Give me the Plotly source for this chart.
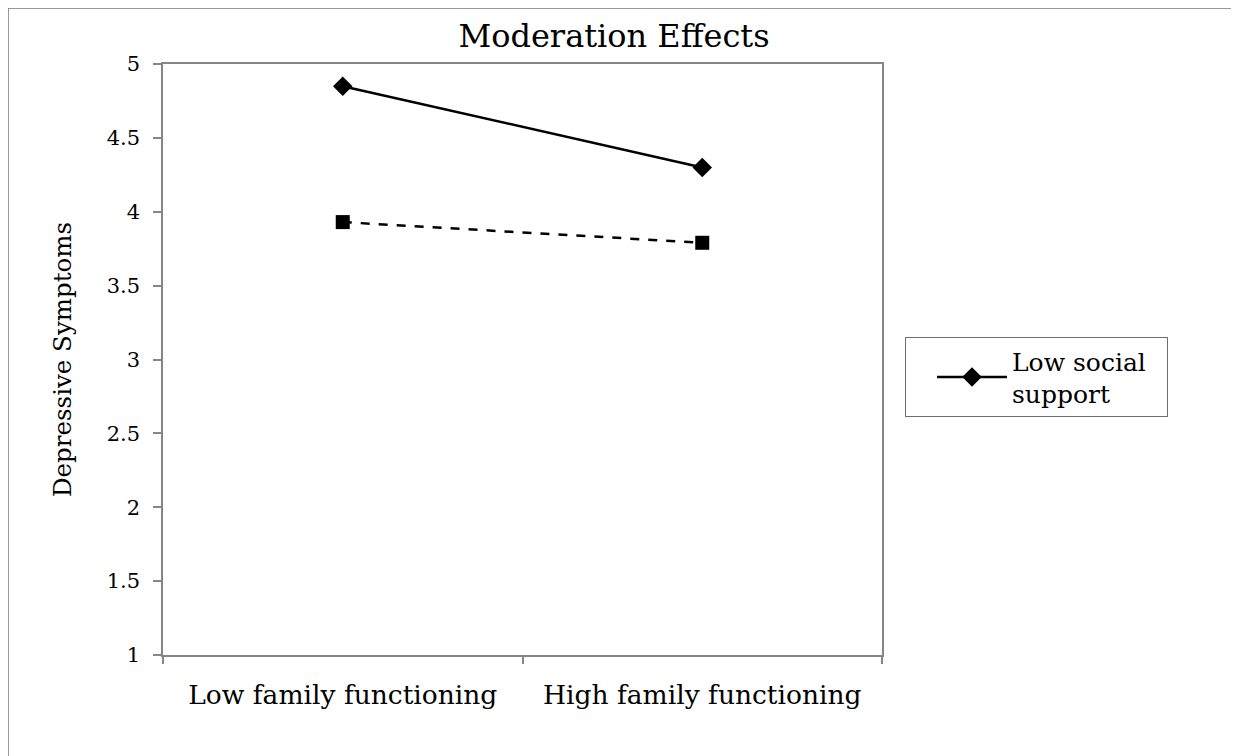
import plotly.graph_objects as go

categories = ["Low family functioning", "High family functioning"]
low_support = [4.85, 4.30]
high_support = [3.93, 3.79]
series_names = ["Low social<br>support", "High social<br>support"]
y_ticks = [1, 1.5, 2, 2.5, 3, 3.5, 4, 4.5, 5]
y_ticktext = ["1", "1.5", "2", "2.5", "3", "3.5", "4", "4.5", "5"]

FONT = "DejaVu Serif"
x_pos = list(range(len(categories)))

fig = go.Figure()
fig.add_trace(go.Scatter(
    x=x_pos, y=low_support, name=series_names[0], mode="lines+markers",
    line=dict(color="black", width=2.5),
    marker=dict(symbol="diamond", size=15, color="black"),
))
fig.add_trace(go.Scatter(
    x=x_pos, y=high_support, name=series_names[1], mode="lines+markers",
    line=dict(color="black", width=2.5, dash="dash"),
    marker=dict(symbol="square", size=14, color="black"),
    showlegend=False,
))
# invisible trace to drive the boundary tick axis
fig.add_trace(go.Scatter(x=[-0.5, 1.5], y=[1, 1], xaxis="x2", mode="none",
                         showlegend=False, hoverinfo="skip"))

OFF = 8  # default page body margin
W, H = 1239 - OFF, 756 - OFF
L, R, T, B = 163 - OFF, 882 - OFF, 64 - OFF, 655 - OFF
pw, ph = R - L, B - T
fig.update_layout(
    width=W, height=H,
    margin=dict(l=L, r=W - R, t=T, b=H - B, pad=0, autoexpand=False),
    paper_bgcolor="white", plot_bgcolor="white",
    font=dict(family=FONT, color="black"),
    title=dict(text="Moderation Effects", x=(614 - OFF - L) / pw, xref="paper",
               xanchor="center", y=1 - (36 - OFF) / H, yanchor="middle",
               font=dict(size=32, family=FONT)),
    xaxis=dict(range=[-0.5, 1.5], tickmode="array", tickvals=x_pos,
               ticktext=categories, ticks="", showgrid=False, zeroline=False,
               showline=True, linecolor="#868686", linewidth=1.5, mirror=True,
               tickfont=dict(size=26.5, family=FONT), ticklabelstandoff=15),
    xaxis2=dict(range=[-0.5, 1.5], overlaying="x", side="bottom",
                tickmode="array", tickvals=[-0.5, 0.5, 1.5], ticks="outside",
                ticklen=8, tickcolor="#868686", tickwidth=1.5,
                showticklabels=False, showgrid=False, zeroline=False,
                showline=False),
    yaxis=dict(range=[1, 5], tickmode="array", tickvals=y_ticks,
               ticktext=y_ticktext, ticks="outside", ticklen=8,
               tickcolor="#868686", tickwidth=1.5, showgrid=False,
               zeroline=False, showline=True, linecolor="#868686",
               linewidth=1.5, mirror=True, ticklabelstandoff=9,
               tickfont=dict(size=21, family=FONT),
               title=dict(text="Depressive Symptoms",
                          font=dict(size=24.5, family=FONT), standoff=28)),
    legend=dict(x=(905 - OFF - L) / pw, y=(B - (337 - OFF)) / ph,
                xanchor="left", yanchor="top", orientation="h",
                bordercolor="#6e6e6e", borderwidth=1,
                font=dict(size=25, family=FONT), entrywidth=150,
                indentation=26, itemwidth=70),
    shapes=[dict(type="rect", xref="paper", yref="paper",
                 x0=(0 - L) / pw, x1=(1232 - OFF - L) / pw,
                 y0=-0.3, y1=(B - 0) / ph,
                 line=dict(color="#7a7a7a", width=1.5))],
)

fig.write_html("out.html")
